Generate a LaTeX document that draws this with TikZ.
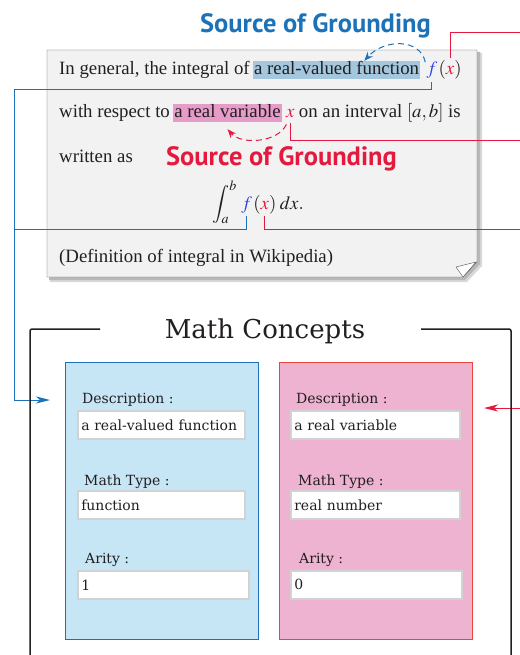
\documentclass[tikz,border=0pt]{standalone}
\usepackage{mathptmx}
\usepackage{fontspec}
\renewcommand{\rmdefault}{lmr}
\newfontfamily\paperfont{Liberation Serif}
\newfontfamily\headfont{PT Sans}
\newfontfamily\formfont{DejaVu Serif}
\usetikzlibrary{arrows.meta,positioning}
\definecolor{accent}{HTML}{1B72B8}
\definecolor{st}{HTML}{E5193D}
\definecolor{ink}{HTML}{231F20}
\definecolor{paper}{HTML}{F2F2F2}
\definecolor{hlb}{HTML}{A4C7DE}
\definecolor{hlp}{HTML}{E69BC9}
\definecolor{soft}{HTML}{C6E6F5}
\definecolor{rose}{HTML}{EEB3D1}
\definecolor{rline}{HTML}{E8453C}
\definecolor{fcol}{HTML}{2E44E8}
\tikzset{
  txt/.style={inner sep=0pt,anchor=base west,text=ink,font=\paperfont\fontsize{18.8}{22}\selectfont},
  hl/.style={txt,inner xsep=1pt,inner ysep=2pt,text height=12pt,text depth=2pt},
  src/.style={inner sep=0pt,anchor=base west,font=\headfont\bfseries\fontsize{26.5}{30}\selectfont},
  cbox/.style={draw,line width=1pt,minimum width=193,minimum height=277},
  lab/.style={inner sep=0pt,anchor=base west,text=ink,font=\formfont\fontsize{14}{17}\selectfont},
  field/.style={draw=gray!35,line width=1.6pt,fill=white,anchor=north west,minimum height=28,inner xsep=3.5pt,text=ink,align=left,font=\formfont\fontsize{14}{17}\selectfont},
  conn/.style={line width=1pt},
  arr/.style={conn,-{Stealth[length=14pt,width=7pt,inset=4pt]}},
  dsh/.style={line width=1pt,dash pattern=on 6pt off 4pt,-{Stealth[length=9pt,width=7pt]}}}
\begin{document}
\begin{tikzpicture}[x=1pt,y=-1pt]
\useasboundingbox (0,0) rectangle (519,655);
% paper sheet
\fill[black!15] (50,53) -- (482,53) -- (482,266) -- (467,282) -- (50,282) -- cycle;
\fill[black!28] (49,52) -- (480,52) -- (480,264) -- (465,280) -- (49,280) -- cycle;
\draw[gray!70!black,fill=paper] (47,50) -- (477,50) -- (477,262) -- (463,277) -- (47,277) -- cycle;
\draw[gray!70!black,fill=white] (463,277) -- (476,262) -- (456,267) -- cycle;
% first line
\node[txt] (l1) at (59,75) {In general, the integral of};
\node[hl,fill=hlb,xshift=3pt] (hf) at (l1.base east) {a real-valued function};
\node[txt,text=fcol,xshift=6pt] (f1) at (hf.base east) {$f$};
\node[txt,xshift=1pt] (x1) at (f1.base east) {$(\textcolor{st}{x})$};
% second line
\node[txt] (l2) at (59,118) {with respect to};
\node[hl,fill=hlp,xshift=3pt] (hp) at (l2.base east) {a real variable};
\node[txt,text=st,xshift=4pt] (x2) at (hp.base east) {$x$};
\node[txt,xshift=4pt] (l2b) at (x2.base east) {on an interval $[a,b]$ is};
% third line
\node[txt] (l3) at (59,163) {written as};
\node[src,text=st] (s2) at (166,165) {Source of Grounding};
\node[src,text=accent] (s1) at (200,33) {Source of Grounding};
% integral
\node[txt,font=\paperfont\fontsize{19}{21}\selectfont,text height=14pt] (int) at (212,209) {$\displaystyle\int_a^b$};
\node[txt,text=fcol,xshift=4pt] (f3) at (int.base east) {$f$};
\node[txt,xshift=1pt] (x3) at (f3.base east) {$(\textcolor{st}{x})$};
\node[txt,xshift=3pt] (dx) at (x3.base east) {$dx.$};
\node[txt] (l5) at (59,262) {(Definition of integral in Wikipedia)};
% grounding arcs
\draw[dsh,accent] ([xshift=-1pt]f1.north west) .. controls +(-5,-24) and +(20,-22) .. ([xshift=-56pt]hf.north east);
\draw[dsh,st] ([xshift=-4pt,yshift=-6pt]x2.south) .. controls +(-8,18) and +(14,16) .. ([yshift=-7pt]hp.south);
% connectors
\coordinate (bbus) at (14,90);
\coordinate (bjn) at (14,229);
\coordinate (bin) at (50,400);
\coordinate (r1) at (522,33);
\coordinate (r2) at (522,141);
\coordinate (r3) at (522,229);
\coordinate (rsrc) at (522,408);
\coordinate (rin) at (484,408);
\draw[arr,accent] ([yshift=-3pt]f1.south) |- (bbus) |- (bin);
\draw[conn,accent] ([yshift=-3pt]f3.south) |- (bjn);
\draw[conn,st] ([yshift=3pt]x1.north) |- (r1);
\draw[conn,st] ([yshift=-5pt]x2.south) |- (r2);
\draw[conn,st] ([yshift=-2pt]x3.south) |- (r3);
\draw[arr,st] (rsrc) -- (rin);
% math concepts
\node[anchor=base,inner sep=0pt,text=ink,font=\formfont\fontsize{26}{30}\selectfont] (mc) at (265,338) {Math Concepts};
\draw[ink,line width=1.5pt,rounded corners=2pt] (100,329) -- (30,329) -- (30,670);
\draw[ink,line width=1.5pt,rounded corners=2pt] (421,329) -- (511,329) -- (511,670);
\node[cbox,draw=accent,fill=soft] (cf) at (161.5,500.5) {};
\node[cbox,draw=rline,fill=rose] (cv) at (376,500.5) {};
% function fields
\node[lab] (dl1) at (82,403) {Description :};
\node[field,text width=160pt] (d1) at (77,410) {a real-valued function};
\node[lab] (tl1) at (84,485) {Math Type :};
\node[field,text width=160pt] (t1) at (77,490) {function};
\node[lab] (al1) at (85,563) {Arity :};
\node[field,text width=164pt] (a1) at (77,570) {1};
% variable fields
\node[lab] (dl2) at (296,403) {Description :};
\node[field,text width=162pt] (d2) at (290,410) {a real variable};
\node[lab] (tl2) at (298,485) {Math Type :};
\node[field,text width=162pt] (t2) at (290,490) {real number};
\node[lab] (al2) at (299,563) {Arity :};
\node[field,text width=164pt] (a2) at (290,570) {0};
\end{tikzpicture}
\end{document}
